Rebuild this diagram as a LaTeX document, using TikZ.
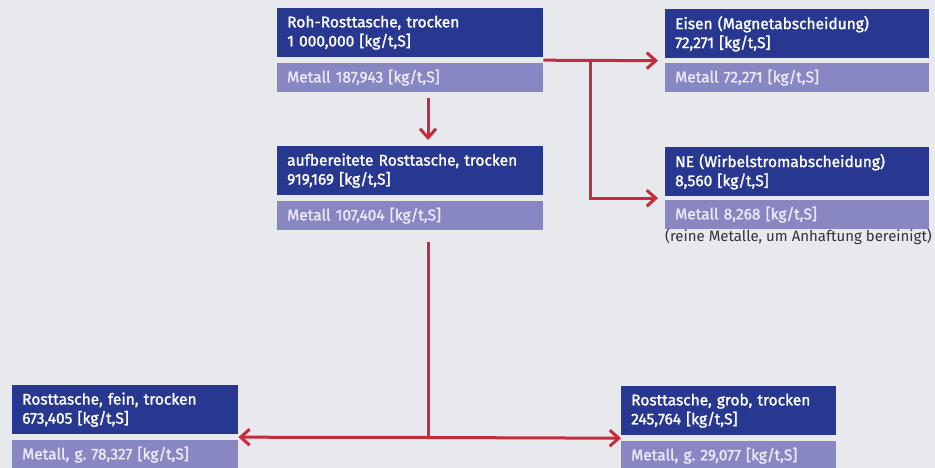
\documentclass[tikz,border=0pt]{standalone}
\usepackage{fontspec}
\setmainfont{Fira Sans}
\newfontfamily\medfont{Fira Sans}[FakeBold=1.5]
\usetikzlibrary{arrows.meta,calc}
\frenchspacing
\definecolor{bgc}{HTML}{E7E9ED}
\definecolor{dkblue}{HTML}{283890}
\definecolor{ltblue}{HTML}{8986C4}
\definecolor{ltext}{HTML}{EAEAF6}
\definecolor{redc}{HTML}{C62B3D}
\definecolor{captc}{HTML}{333338}
\begin{document}
\begin{tikzpicture}[x=1pt,y=-1pt,
  darkbox/.style={fill=dkblue, text=white, anchor=north west, inner xsep=10pt, inner ysep=0pt,
    align=left, minimum height=49pt, font=\medfont\fontsize{15.5}{19}\selectfont\frenchspacing},
  lightbox/.style={fill=ltblue, text=ltext, anchor=north west, inner xsep=10pt, inner ysep=0pt,
    align=left, minimum height=29pt, font=\medfont\fontsize{15.5}{19}\selectfont\frenchspacing},
  arr/.style={draw=redc, line width=3pt, -{Straight Barb[length=9pt,width=16pt]}},
  plainline/.style={draw=redc, line width=3pt}
]
\fill[bgc] (0,0) rectangle (935,468);
\useasboundingbox (0,0) rectangle (935,468);

% top
\node[darkbox, text width=246pt] (top) at (277,8) {Roh-Rosttasche, trocken\\1 000,000 [kg/t,S]};
\node[lightbox, text width=246pt] (topm) at (277,63) {Metall 187,943 [kg/t,S]};
% aufbereitet
\node[darkbox, text width=246pt] (auf) at (277,146) {aufbereitete Rosttasche, trocken\\919,169 [kg/t,S]};
\node[lightbox, text width=246pt] (aufm) at (277,201) {Metall 107,404 [kg/t,S]};
% Eisen
\node[darkbox, text width=244pt] (fe) at (665,9) {Eisen (Magnetabscheidung)\\72,271 [kg/t,S]};
\node[lightbox, text width=244pt] (fem) at (665,63) {Metall 72,271 [kg/t,S]};
% NE
\node[darkbox, text width=244pt] (ne) at (665,147) {NE (Wirbelstromabscheidung)\\8,560 [kg/t,S]};
\node[lightbox, text width=244pt] (nem) at (665,200) {Metall 8,268 [kg/t,S]};
\node[anchor=north west, inner sep=0pt, text=captc, font=\fontsize{15}{17}\selectfont] (cap) at (665,229) {(reine Metalle, um Anhaftung bereinigt)};
% fein
\node[darkbox, text width=206pt] (fein) at (12,385) {Rosttasche, fein, trocken\\673,405 [kg/t,S]};
\node[lightbox, text width=206pt] (feinm) at (12,440) {Metall, g. 78,327 [kg/t,S]};
% grob
\node[darkbox, text width=195pt] (grob) at (621,386) {Rosttasche, grob, trocken\\245,764 [kg/t,S]};
\node[lightbox, text width=195pt] (grobm) at (621,441) {Metall, g. 29,077 [kg/t,S]};

% connectors
\coordinate (topout) at ($(top.south east)!0.5!(topm.north east)$);
\coordinate (fein-in) at ($(fe.south west)!0.5!(fem.north west)$);
\coordinate (ne-in) at ($(ne.south west)!0.5!(nem.north west)$);
\coordinate (br) at (590,0 |- topout);
\coordinate (down-a) at (428,0 |- topm.south);
\coordinate (down-b) at (428,0 |- auf.north);
\coordinate (main-a) at (428,0 |- aufm.south);
\coordinate (split) at (428,437.5);
\draw[arr, shorten >=7pt] (topout) -- (fein-in);
\draw[arr, shorten >=7pt] (br) |- (ne-in);
\draw[arr, shorten <=6pt, shorten >=6pt] (down-a) -- (down-b);
\draw[plainline, shorten <=12pt] (main-a) -- (split);
\draw[arr] (split) -- ($(fein.south east)!0.5!(feinm.north east)$);
\draw[arr] (split) -- ($(grob.south west)!0.5!(grobm.north west)$);
\end{tikzpicture}
\end{document}
